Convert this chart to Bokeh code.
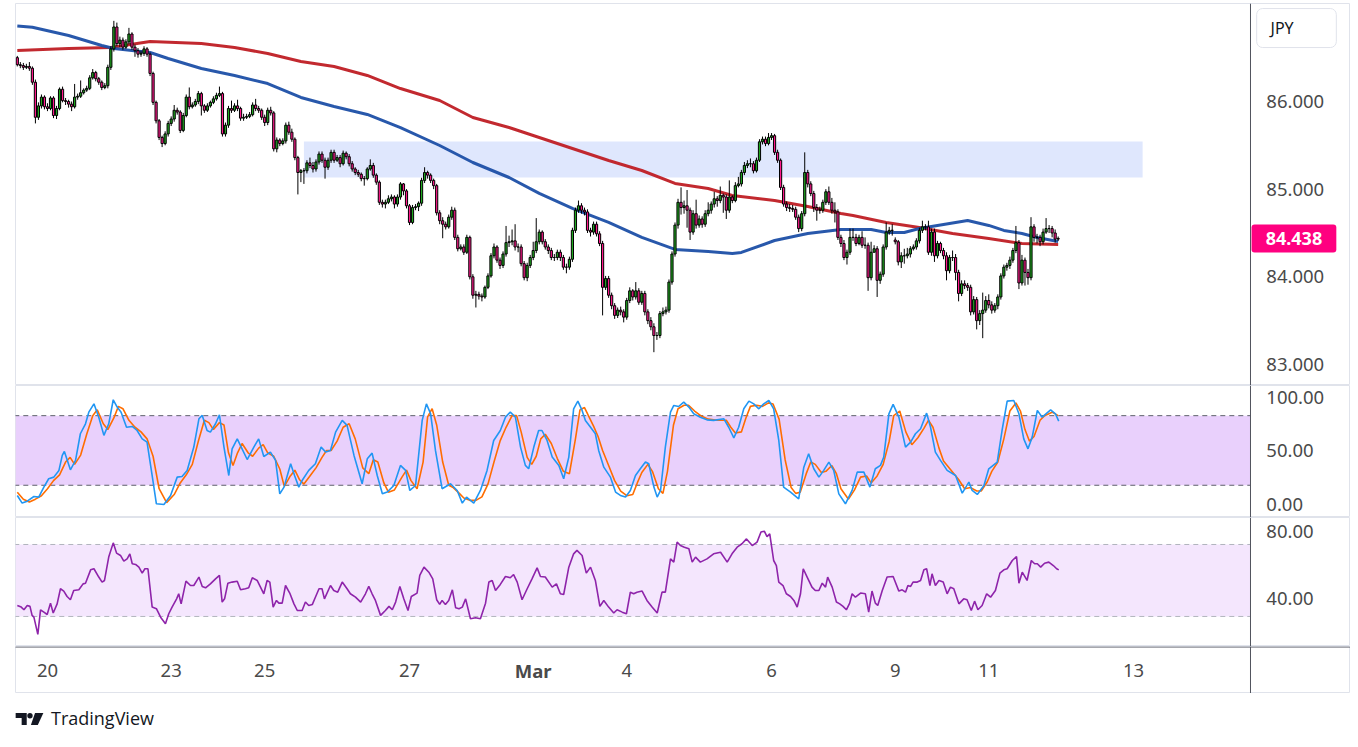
from bokeh.plotting import figure
from bokeh.models import (Range1d, Span, BoxAnnotation, Div, ColumnDataSource)
from bokeh.core.properties import value
from bokeh.layouts import column
from bokeh.embed import file_html
from bokeh.resources import INLINE

# ---------------- data (hourly bars, index 0 = Feb 19 14:00) ----------------
opens = [
86.50, 86.42, 86.41, 86.39, 86.40, 86.38, 86.22, 85.82, 85.95, 86.05,
85.94, 85.92, 86.04, 85.84, 85.92, 86.14, 86.01, 86.00, 85.97, 85.94,
86.05, 86.06, 86.10, 86.13, 86.15, 86.27, 86.33, 86.26, 86.22, 86.16,
86.18, 86.39, 86.60, 86.85, 86.66, 86.70, 86.62, 86.68, 86.77, 86.62,
86.58, 86.54, 86.55, 86.60, 86.54, 86.32, 85.99, 85.78, 85.59, 85.52,
85.63, 85.75, 85.80, 85.90, 85.88, 85.67, 85.84, 86.05, 85.94, 85.96,
86.00, 86.09, 85.95, 85.90, 85.95, 85.99, 86.03, 86.07, 86.09, 85.63,
85.73, 85.92, 85.90, 85.95, 85.92, 85.81, 85.82, 85.83, 85.85, 85.96,
85.92, 85.90, 85.82, 85.76, 85.90, 85.87, 85.46, 85.56, 85.52, 85.55,
85.73, 85.65, 85.57, 85.36, 85.19, 85.21, 85.21, 85.30, 85.27, 85.23,
85.31, 85.40, 85.33, 85.25, 85.33, 85.42, 85.33, 85.36, 85.29, 85.41,
85.37, 85.29, 85.23, 85.19, 85.17, 85.12, 85.12, 85.23, 85.27, 85.16,
85.08, 84.85, 84.83, 84.85, 84.89, 84.91, 84.83, 84.91, 85.06, 84.98,
84.81, 84.62, 84.79, 84.80, 84.84, 85.10, 85.19, 85.16, 85.10, 85.04,
84.73, 84.64, 84.60, 84.57, 84.68, 84.76, 84.45, 84.32, 84.34, 84.28,
84.45, 84.00, 83.79, 83.80, 83.78, 83.77, 83.88, 84.01, 84.24, 84.34,
84.19, 84.13, 84.26, 84.39, 84.40, 84.41, 84.34, 84.34, 84.15, 83.99,
84.13, 84.22, 84.30, 84.40, 84.51, 84.40, 84.34, 84.30, 84.22, 84.22,
84.28, 84.22, 84.11, 84.11, 84.20, 84.53, 84.76, 84.81, 84.76, 84.74,
84.53, 84.51, 84.60, 84.49, 84.38, 83.88, 83.98, 83.79, 83.67, 83.56,
83.62, 83.60, 83.54, 83.73, 83.84, 83.77, 83.84, 83.71, 83.81, 83.60,
83.50, 83.43, 83.33, 83.33, 83.58, 83.60, 83.62, 83.94, 84.26, 84.59,
84.85, 84.79, 84.81, 84.76, 84.51, 84.72, 84.59, 84.66, 84.60, 84.72,
84.76, 84.83, 84.89, 84.87, 84.93, 84.91, 84.76, 84.91, 84.87, 85.04,
85.06, 85.19, 85.27, 85.29, 85.29, 85.21, 85.33, 85.54, 85.57, 85.52,
85.59, 85.61, 85.42, 85.33, 85.02, 84.83, 84.79, 84.78, 84.77, 84.68,
84.55, 84.72, 85.19, 85.06, 84.95, 84.79, 84.76, 84.76, 84.85, 84.97,
84.85, 84.76, 84.74, 84.45, 84.38, 84.22, 84.28, 84.45, 84.45, 84.38,
84.45, 84.36, 84.36, 83.99, 84.28, 84.32, 83.96, 84.03, 84.34, 84.51,
84.53, 84.42, 84.40, 84.17, 84.24, 84.24, 84.26, 84.32, 84.34, 84.41,
84.53, 84.57, 84.57, 84.28, 84.51, 84.24, 84.38, 84.30, 84.24, 84.07,
84.22, 84.22, 84.05, 83.81, 83.92, 83.90, 83.88, 83.60, 83.74, 83.50,
83.58, 83.62, 83.73, 83.68, 83.62, 83.67, 83.77, 84.01, 84.11, 84.13,
84.19, 84.30, 84.39, 83.93, 84.19, 84.05, 83.99, 84.57, 84.45, 84.45,
84.40, 84.51, 84.55, 84.55, 84.50, 84.43]

highs = [
86.52, 86.45, 86.44, 86.43, 86.45, 86.40, 86.25, 85.99, 86.08, 86.07,
85.98, 86.06, 86.06, 85.95, 86.16, 86.17, 86.04, 86.02, 86.00, 86.20,
86.09, 86.24, 86.15, 86.18, 86.30, 86.37, 86.35, 86.28, 86.24, 86.21,
86.42, 86.63, 86.92, 86.90, 86.74, 86.73, 86.71, 86.84, 86.79, 86.65,
86.61, 86.58, 86.63, 86.62, 86.56, 86.34, 86.01, 85.80, 85.61, 85.66,
85.78, 85.83, 85.96, 85.93, 85.90, 85.87, 86.08, 86.16, 85.99, 86.03,
86.12, 86.11, 85.97, 85.98, 86.01, 86.06, 86.10, 86.17, 86.11, 85.76,
85.95, 86.01, 85.98, 86.02, 85.94, 85.86, 85.86, 85.88, 85.99, 86.03,
85.95, 85.92, 85.85, 85.93, 85.94, 85.89, 85.59, 85.58, 85.58, 85.76,
85.77, 85.69, 85.59, 85.38, 85.23, 85.24, 85.33, 85.36, 85.31, 85.34,
85.43, 85.43, 85.36, 85.36, 85.45, 85.45, 85.39, 85.39, 85.44, 85.43,
85.40, 85.32, 85.25, 85.22, 85.19, 85.15, 85.25, 85.34, 85.30, 85.18,
85.10, 84.88, 84.88, 84.93, 84.94, 84.93, 84.94, 85.08, 85.07, 85.00,
84.83, 84.82, 84.83, 84.86, 85.13, 85.25, 85.21, 85.18, 85.12, 85.06,
84.76, 84.68, 84.63, 84.71, 84.80, 84.79, 84.48, 84.37, 84.37, 84.48,
84.47, 84.03, 83.84, 83.83, 83.81, 83.90, 84.04, 84.27, 84.38, 84.36,
84.22, 84.29, 84.58, 84.47, 84.54, 84.60, 84.38, 84.37, 84.18, 84.16,
84.25, 84.40, 84.67, 84.54, 84.53, 84.43, 84.37, 84.33, 84.26, 84.31,
84.31, 84.25, 84.15, 84.23, 84.56, 84.79, 84.87, 84.84, 84.79, 84.77,
84.56, 84.63, 84.63, 84.52, 84.41, 84.01, 84.01, 83.82, 83.70, 83.65,
83.66, 83.63, 83.76, 83.88, 83.86, 83.94, 83.87, 83.84, 83.84, 83.63,
83.54, 83.47, 83.37, 83.61, 83.65, 83.66, 83.97, 84.29, 84.62, 84.89,
85.02, 84.87, 84.99, 84.79, 84.76, 84.88, 84.70, 84.69, 84.76, 84.85,
84.86, 84.97, 84.92, 85.03, 84.95, 84.94, 85.10, 84.93, 85.08, 85.14,
85.22, 85.31, 85.33, 85.35, 85.32, 85.36, 85.57, 85.60, 85.60, 85.64,
85.64, 85.63, 85.45, 85.35, 85.05, 84.86, 84.83, 84.82, 84.80, 84.71,
84.75, 85.42, 85.22, 85.09, 84.98, 84.83, 84.80, 84.88, 85.00, 85.03,
84.90, 84.85, 84.77, 84.48, 84.42, 84.31, 84.55, 84.55, 84.49, 84.48,
84.52, 84.45, 84.39, 84.40, 84.36, 84.35, 84.06, 84.37, 84.62, 84.57,
84.60, 84.45, 84.42, 84.28, 84.32, 84.33, 84.35, 84.37, 84.44, 84.56,
84.64, 84.60, 84.64, 84.55, 84.55, 84.41, 84.40, 84.33, 84.28, 84.25,
84.30, 84.26, 84.08, 83.96, 83.96, 83.93, 83.91, 83.78, 83.77, 83.62,
83.82, 83.78, 83.80, 83.72, 83.70, 83.80, 84.04, 84.14, 84.16, 84.23,
84.33, 84.58, 84.42, 84.25, 84.22, 84.09, 84.68, 84.60, 84.49, 84.48,
84.55, 84.67, 84.59, 84.58, 84.54, 84.46]

lows = [
86.40, 86.38, 86.36, 86.37, 86.35, 86.19, 85.75, 85.79, 85.92, 85.91,
85.89, 85.90, 85.81, 85.80, 85.90, 85.99, 85.96, 85.93, 85.89, 85.92,
86.02, 86.04, 86.08, 86.11, 86.13, 86.25, 86.23, 86.19, 86.13, 86.14,
86.15, 86.36, 86.57, 86.63, 86.62, 86.59, 86.60, 86.65, 86.59, 86.51,
86.50, 86.51, 86.52, 86.51, 86.29, 85.96, 85.75, 85.56, 85.48, 85.50,
85.60, 85.72, 85.77, 85.85, 85.64, 85.65, 85.82, 85.91, 85.92, 85.94,
85.97, 85.84, 85.87, 85.88, 85.93, 85.97, 86.01, 86.05, 85.60, 85.60,
85.70, 85.87, 85.88, 85.89, 85.78, 85.78, 85.80, 85.81, 85.83, 85.89,
85.87, 85.79, 85.72, 85.73, 85.84, 85.43, 85.42, 85.49, 85.50, 85.52,
85.62, 85.54, 85.33, 84.94, 85.08, 85.06, 85.18, 85.24, 85.19, 85.20,
85.28, 85.30, 85.12, 85.22, 85.30, 85.30, 85.31, 85.25, 85.27, 85.34,
85.26, 85.20, 85.16, 85.14, 85.09, 85.04, 85.10, 85.21, 85.13, 85.05,
84.82, 84.79, 84.78, 84.83, 84.86, 84.78, 84.80, 84.88, 84.93, 84.78,
84.59, 84.60, 84.76, 84.75, 84.81, 85.07, 85.12, 85.07, 85.00, 84.70,
84.60, 84.44, 84.54, 84.55, 84.65, 84.42, 84.29, 84.30, 84.25, 84.26,
83.97, 83.75, 83.65, 83.74, 83.72, 83.75, 83.86, 83.99, 84.21, 84.16,
84.09, 84.10, 84.23, 84.34, 84.36, 84.30, 84.28, 84.12, 83.96, 83.95,
84.10, 84.19, 84.27, 84.37, 84.37, 84.31, 84.26, 84.19, 84.18, 84.19,
84.18, 84.08, 84.04, 84.08, 84.17, 84.50, 84.73, 84.72, 84.70, 84.50,
84.46, 84.48, 84.46, 84.35, 83.56, 83.85, 83.76, 83.63, 83.52, 83.53,
83.56, 83.48, 83.51, 83.70, 83.73, 83.74, 83.68, 83.68, 83.56, 83.46,
83.39, 83.14, 83.28, 83.30, 83.55, 83.57, 83.59, 83.91, 84.23, 84.55,
84.71, 84.72, 84.56, 84.42, 84.48, 84.55, 84.56, 84.56, 84.57, 84.69,
84.72, 84.79, 84.80, 84.84, 84.73, 84.66, 84.73, 84.84, 84.85, 85.02,
85.03, 85.16, 85.24, 85.25, 85.18, 85.19, 85.31, 85.51, 85.49, 85.50,
85.56, 85.39, 85.30, 84.99, 84.80, 84.75, 84.74, 84.74, 84.65, 84.51,
84.52, 84.69, 85.02, 84.92, 84.74, 84.64, 84.72, 84.73, 84.82, 84.82,
84.72, 84.62, 84.42, 84.34, 84.19, 84.14, 84.25, 84.41, 84.35, 84.36,
84.33, 84.32, 83.84, 83.96, 84.28, 83.77, 83.92, 84.00, 84.31, 84.48,
84.47, 84.37, 84.13, 84.10, 84.15, 84.21, 84.22, 84.30, 84.31, 84.38,
84.50, 84.53, 84.25, 84.24, 84.17, 84.21, 84.27, 84.20, 83.96, 84.04,
84.18, 83.96, 83.72, 83.78, 83.86, 83.84, 83.56, 83.57, 83.40, 83.45,
83.30, 83.59, 83.64, 83.58, 83.59, 83.63, 83.74, 83.98, 84.07, 84.09,
84.16, 84.27, 83.86, 83.90, 83.90, 83.91, 83.96, 84.40, 84.38, 84.35,
84.37, 84.49, 84.50, 84.45, 84.39, 84.41]

closes = [
86.42, 86.41, 86.39, 86.40, 86.38, 86.22, 85.82, 85.95, 86.05, 85.94,
85.92, 86.04, 85.84, 85.92, 86.14, 86.01, 86.00, 85.97, 85.94, 86.05,
86.06, 86.10, 86.13, 86.15, 86.27, 86.33, 86.26, 86.22, 86.16, 86.18,
86.39, 86.60, 86.85, 86.66, 86.70, 86.62, 86.68, 86.77, 86.62, 86.58,
86.54, 86.55, 86.60, 86.54, 86.32, 85.99, 85.78, 85.59, 85.52, 85.63,
85.75, 85.80, 85.90, 85.88, 85.67, 85.84, 86.05, 85.94, 85.96, 86.00,
86.09, 85.95, 85.90, 85.95, 85.99, 86.03, 86.07, 86.09, 85.63, 85.73,
85.92, 85.90, 85.95, 85.92, 85.81, 85.82, 85.83, 85.85, 85.96, 85.92,
85.90, 85.82, 85.76, 85.90, 85.87, 85.46, 85.56, 85.52, 85.55, 85.73,
85.65, 85.57, 85.36, 85.19, 85.21, 85.21, 85.30, 85.27, 85.23, 85.31,
85.40, 85.33, 85.25, 85.33, 85.42, 85.33, 85.36, 85.29, 85.41, 85.37,
85.29, 85.23, 85.19, 85.17, 85.12, 85.12, 85.23, 85.27, 85.16, 85.08,
84.85, 84.83, 84.85, 84.89, 84.91, 84.83, 84.91, 85.06, 84.98, 84.81,
84.62, 84.79, 84.80, 84.84, 85.10, 85.19, 85.16, 85.10, 85.04, 84.73,
84.64, 84.60, 84.57, 84.68, 84.76, 84.45, 84.32, 84.34, 84.28, 84.45,
84.00, 83.79, 83.80, 83.78, 83.77, 83.88, 84.01, 84.24, 84.34, 84.19,
84.13, 84.26, 84.39, 84.40, 84.41, 84.34, 84.34, 84.15, 83.99, 84.13,
84.22, 84.30, 84.40, 84.51, 84.40, 84.34, 84.30, 84.22, 84.22, 84.28,
84.22, 84.11, 84.11, 84.20, 84.53, 84.76, 84.81, 84.76, 84.74, 84.53,
84.51, 84.60, 84.49, 84.38, 83.88, 83.98, 83.79, 83.67, 83.56, 83.62,
83.60, 83.54, 83.73, 83.84, 83.77, 83.84, 83.71, 83.81, 83.60, 83.50,
83.43, 83.33, 83.33, 83.58, 83.60, 83.62, 83.94, 84.26, 84.59, 84.85,
84.79, 84.81, 84.76, 84.51, 84.72, 84.59, 84.66, 84.60, 84.72, 84.76,
84.83, 84.89, 84.87, 84.93, 84.91, 84.76, 84.91, 84.87, 85.04, 85.06,
85.19, 85.27, 85.29, 85.29, 85.21, 85.33, 85.54, 85.57, 85.52, 85.59,
85.61, 85.42, 85.33, 85.02, 84.83, 84.79, 84.78, 84.77, 84.68, 84.55,
84.72, 85.19, 85.06, 84.95, 84.79, 84.76, 84.76, 84.85, 84.97, 84.85,
84.76, 84.74, 84.45, 84.38, 84.22, 84.28, 84.45, 84.45, 84.38, 84.45,
84.36, 84.36, 83.99, 84.28, 84.32, 83.96, 84.03, 84.34, 84.51, 84.53,
84.53, 84.40, 84.17, 84.24, 84.24, 84.26, 84.32, 84.34, 84.41, 84.53,
84.57, 84.57, 84.28, 84.51, 84.24, 84.38, 84.30, 84.24, 84.07, 84.22,
84.22, 84.05, 83.81, 83.92, 83.90, 83.88, 83.60, 83.74, 83.50, 83.58,
83.62, 83.73, 83.68, 83.62, 83.67, 83.77, 84.01, 84.11, 84.13, 84.19,
84.30, 84.39, 83.93, 84.19, 84.05, 83.99, 84.57, 84.45, 84.45, 84.40,
84.51, 84.55, 84.55, 84.50, 84.43, 84.438]

# moving averages
ma_fast_idx = [0, 5, 17, 28, 32, 44, 50, 61, 72, 83, 94, 105, 116, 127, 140, 151, 163, 173,
               184, 196, 207, 218, 229, 237, 240, 251, 262, 273, 283, 288, 294, 299, 305,
               315, 322, 327, 333, 338, 345]
ma_fast_val = [86.861, 86.847, 86.753, 86.639, 86.605, 86.559, 86.490, 86.376, 86.297,
               86.205, 86.046, 85.943, 85.852, 85.703, 85.498, 85.304, 85.133, 84.951,
               84.780, 84.620, 84.449, 84.312, 84.289, 84.266, 84.278, 84.414, 84.494,
               84.540, 84.540, 84.506, 84.506, 84.551, 84.586, 84.643, 84.586, 84.529,
               84.494, 84.449, 84.403]
ma_slow_idx = [0, 17, 31, 44, 61, 72, 83, 94, 105, 116, 127, 140, 151, 163, 173, 184, 196,
               207, 218, 229, 237, 251, 262, 273, 277, 288, 299, 310, 322, 333, 345]
ma_slow_val = [86.582, 86.605, 86.616, 86.684, 86.662, 86.616, 86.548, 86.456, 86.399,
               86.297, 86.148, 86.011, 85.817, 85.703, 85.589, 85.464, 85.327, 85.213,
               85.065, 85.008, 84.928, 84.871, 84.802, 84.722, 84.700, 84.620, 84.563,
               84.494, 84.437, 84.380, 84.369]

# resistance zone
zone_start, zone_end = 95, 373
zone_low, zone_high = 85.133, 85.544
last_price = 84.438

# stochastic %K / %D
stoch_k_idx = [0, 1.6, 3.3, 5.5, 7.1, 8.8, 10.4, 12.1, 13.8, 14.9, 15.6, 17.6, 19.3, 20.9, 22.6,
               23.7, 25.4, 27, 28.7, 30.3, 31.8, 33.1, 34.4, 36.2, 38.1, 39.7, 41.4, 43, 44.7,
               46.1, 48.6, 50.8, 53, 54.6, 56.3, 58.5, 60.2, 61.3, 62.9, 64, 65.7, 67, 68.5,
               70.1, 71.2, 72.9, 74.5, 76.2, 78.4, 80, 81.7, 83.9, 85.6, 87, 88.4, 90.6, 91.9,
               93.3, 94.4, 96.6, 98.8, 100.7, 102.2, 103.8, 105.5, 107.7, 109.3, 111.6, 114.3,
               116, 117.6, 119.3, 121, 122.6, 124.8, 127, 128.7, 130.1, 132, 134.2, 135.6, 137,
               138.6, 140.8, 143.6, 145.8, 147.5, 148.9, 151.3, 153.5, 155.7, 157.9, 160.1,
               161.8, 163.4, 165.1, 166.8, 168.4, 169.5, 171.2, 172.8, 173.9, 175.6, 177.3,
               179.5, 181.1, 182.8, 184.4, 185.8, 187.2, 188.3, 190, 191.6, 192.7, 194.4,
               196.6, 198.3, 199.9, 201.6, 203.2, 204.9, 206.5, 208.2, 209.3, 211, 212.1,
               213.2, 214.8, 216.5, 217.6, 219.2, 220.9, 222.6, 224.2, 226.4, 228.6, 230.8,
               234.2, 235.8, 237.5, 239.1, 240.8, 242.5, 244.1, 245.8, 247.4, 249.1, 250.7,
               252.4, 254, 256.3, 259, 260.7, 262.3, 264, 265.7, 267.3, 269, 270.6, 272.3,
               274.5, 276.7, 278.4, 280.6, 282.6, 284.4, 286.1, 287.2, 288.9, 290.3, 292.2,
               294.4, 296.1, 297.7, 299.4, 301.4, 302.7, 304.3, 306, 308.2, 311, 313.2, 315.4,
               316.5, 318.2, 320.4, 322, 324.8, 326.4, 328.1, 330.3, 332, 333.6, 335, 336.4,
               338.1, 339.7, 342.5, 344.1, 345.2]
stoch_k_val = [11.2, 4.6, 6.3, 10.3, 9.8, 18.4, 25.6, 27, 32.8, 45.7, 49.1, 33.3, 41.4, 64.4, 73,
               83, 90.2, 78.7, 63, 73, 93.7, 87.4, 83, 70, 70.7, 67.2, 60, 57.2, 28.4,
               4, 3.4, 11.2, 27, 27.6, 32.8, 52.9, 77.3, 80.2, 67.2, 65.8, 73, 80.7, 52.9,
               28.4, 51.4, 60, 51.4, 42.2, 52.9, 60, 44.8, 48.6, 41.4, 12.6, 18.4, 38.5, 28.4,
               18.4, 24.1, 32.8, 38.5, 52.9, 48.6, 50, 65.8, 75.9, 71.6, 45.7, 21.3,
               42.8, 47.7, 28.4, 12.6, 14.1, 19.8, 37.1, 32.8, 15.5, 19.8, 75.9, 90.2, 81.6,
               50, 17, 21.3, 15.5, 4.6, 9.8, 4.6, 15.5, 32.8, 58.6, 67.2,
               78.7, 83, 78.7, 52.9, 37.1, 34.2, 52.9, 67.2, 67.2, 58.6, 44.3,
               37.1, 25.6, 44.3, 85.9, 92.5, 84.5, 75.9, 70, 64.4, 50, 35.6,
               27, 14.1, 11.2, 9.8, 15.5, 28.4, 34.2, 40, 38.5, 18.4, 9.8,
               15.5, 52.9, 83, 88.8, 87.9, 91.7, 87.4, 81.6, 78.7, 76.4, 75.9,
               77.3, 70, 60.9, 70, 85.9, 92.5, 90.2, 85.9, 90.2, 93.1, 85.9,
               58.6, 18.4, 14.1, 8.3, 35.6, 47.1, 34.2, 27, 32.8, 40, 32.8, 12.6,
               4, 15.5, 31.3, 31.3, 18.4, 34.2, 37.1, 44.3, 81.6, 89.7, 78.7,
               52.9, 57.2, 64.4, 68.7, 82.2, 70, 48.6, 41.4, 32.8, 28.4, 13.2, 22.7,
               15.5, 12.1, 19.8, 34.2, 40, 67.2, 92.5, 93.1, 81.6, 60, 51.4, 61.5,
               84.5, 78.7, 85, 81.6, 75.3]
stoch_d_idx = [0, 2, 4, 6, 8, 10, 12, 14, 16, 17.5, 19, 21, 23, 25, 26.5, 28.5, 30, 32, 33.5, 35,
               37, 39, 41, 43, 45, 47, 49.5, 52, 54, 56, 58, 60, 62, 63.5, 65, 67, 68.5, 70,
               71.5, 73, 74.5, 76.5, 78, 80, 81.5, 83, 85, 87, 88.5, 90.5, 92, 93.5, 95, 97, 99,
               101, 102.5, 104, 106, 108, 110, 112, 114.5, 116.5, 118, 119.5, 121.5, 123, 125,
               127.5, 129, 130.5, 132.5, 134.5, 136, 137.5, 139, 141, 143, 144.5, 146.5, 148,
               150, 152, 154, 156, 158, 160, 162, 164, 165.5, 167, 169, 170.5, 172, 173.5, 175,
               177, 179, 181, 183, 185, 186.5, 188, 189.5, 191, 192.5, 194, 196, 198, 200, 202,
               204, 205.5, 207, 209, 210.5, 212.5, 214, 215.5, 217.5, 219, 221, 222.5, 224.5,
               226.5, 229, 232, 235, 236.5, 238, 240, 241.5, 243, 245, 247, 249, 250.5, 252.5,
               254.5, 256.5, 258, 259.5, 261.5, 263, 264.5, 266.5, 268, 270, 271.5, 273, 275.5,
               277.5, 279.5, 281.5, 283, 285, 287, 289, 290.5, 292.5, 294.5, 296.5, 298.5,
               300.5, 302, 303.5, 305.5, 307, 309.5, 312, 314, 316, 318, 319.5, 321.5, 323, 325,
               327, 329, 331, 332.5, 334, 335.5, 337, 339, 340.5, 343, 345]
stoch_d_val = [14, 8, 5.5, 8, 11, 17, 24, 29, 40, 44, 38, 46, 64, 80, 85, 73, 68, 78, 88, 86,
               76, 70, 66, 60, 45, 17, 5, 12, 22, 29, 38, 58, 76, 74, 68, 74, 72, 48,
               37, 48, 56, 48, 45, 52, 55, 48, 45, 34, 19, 28, 33, 25, 21, 28, 35,
               44, 50, 50, 58, 70, 73, 60, 35, 30, 42, 40, 22, 14, 16,
               27, 33, 24, 17, 40, 79, 86, 72, 40, 20, 18, 13, 9,
               7, 7, 10, 21, 40, 58, 70, 80, 80, 66, 44, 38, 45, 60, 64,
               56, 43, 32, 30, 60, 85, 87, 79, 71, 62, 50, 37, 24, 15, 11,
               12, 22, 31, 38, 32, 17, 13, 32, 72, 86, 89, 89, 84,
               80, 77, 76, 76, 70, 65, 66, 78, 88, 89, 88, 91, 90, 77,
               42, 18, 13, 14, 30, 40, 38, 31, 32, 37, 30, 17, 8,
               16, 27, 28, 22, 28, 38, 58, 80, 84, 66, 55, 61,
               69, 76, 70, 52, 41, 33, 25, 17, 18, 15, 15, 23, 32, 40,
               60, 84, 91, 84, 68, 58, 62, 76, 80, 83, 80]

# RSI
rsi_idx = [0, 1.3, 2.2, 3.3, 4.2, 4.9, 5.5, 6.8, 7.7, 8.8, 9.9, 11, 11.9, 13.2, 14.3, 15.4, 16.5,
           17.6, 18.7, 20.4, 21.8, 22.6, 24.3, 25.4, 27, 28.1, 28.9, 30.3, 31.8, 32.9, 34.2,
           35.3, 36.4, 37.3, 38.1, 39.2, 40.3, 41.4, 42.3, 43.3, 44.7, 46.1, 47.5, 49.1, 50.2,
           51.3, 52.8, 53.5, 54.3, 55.9, 57.4, 58.5, 60.2, 61.3, 62.4, 64, 65.7, 67, 67.9, 68.7,
           69.8, 71.2, 72.9, 74, 75.6, 76.7, 77.9, 79.5, 80.6, 81.7, 82.8, 83.7, 84.8, 85.9,
           86.7, 87.8, 88.9, 90.3, 91.7, 92.8, 94.4, 95.5, 96.6, 97.8, 98.8, 100, 101, 101.8,
           103.8, 104.9, 106.2, 107.7, 109.3, 110.4, 112.1, 113.8, 115.4, 116.5, 117.6, 118.7,
           120.4, 122, 123.2, 124.3, 125.4, 126.8, 128.1, 129.5, 130.6, 132.5, 133.4, 134.8,
           136.4, 137.7, 139, 140, 140.8, 141.9, 143, 144.2, 145.3, 146.4, 147.5, 148.6, 150.2,
           151.9, 153.5, 155.2, 156.3, 157.4, 158.5, 160.1, 161.8, 163.4, 164.5, 165.7, 167.3,
           169, 170.6, 172.3, 173.4, 175, 177.3, 178.7, 180, 181.1, 182.8, 184.4, 185.5, 187.2,
           188.6, 190, 191.6, 193.1, 194.4, 196, 197.7, 198.8, 200.5, 201.9, 203.2, 204.3,
           205.4, 207.1, 208.7, 210.4, 212.1, 213.7, 214.8, 216.5, 217.6, 218.7, 219.8, 221.1,
           222.6, 223.7, 224.8, 226.4, 228.6, 230.8, 233.1, 235.3, 236.9, 238.6, 240.2, 241.7,
           243.6, 245.2, 246.5, 247.6, 248.5, 249.4, 250.7, 251.6, 252.4, 253.8, 254.9, 256.3,
           257.4, 258.5, 259.6, 260.5, 261.8, 263.4, 264.5, 265.7, 266.8, 267.9, 268.6, 270.1,
           271.5, 272.6, 273.7, 274.8, 275.9, 276.7, 277.8, 279.5, 281.1, 282.2, 283.3, 284.4,
           285.2, 286.7, 288.3, 290.3, 292.2, 293.3, 294.4, 295.2, 296.1, 296.9, 298.3, 299.4,
           300.5, 301.4, 302.5, 303.2, 304.3, 305.5, 306.9, 308.2, 309.3, 310.4, 312.1, 313.7,
           314.8, 316.2, 317.3, 318.4, 319.8, 321.3, 322.6, 324.2, 325.7, 327, 328.1, 329.8,
           331.2, 332, 333.1, 334.7, 336.1, 337.2, 338.1, 339.2, 340.5, 341.9, 343.4, 344.5,
           345.2]
rsi_val = [36.1, 35.2, 33.7, 36.1, 35.6, 30.6, 29.6, 20, 33.7, 32.4, 31.1, 37.4, 31.9, 37, 45.4,
           44.1, 41.1, 39.3, 44.4, 44.8, 48.1, 48.5, 55.9, 56.5, 51.9, 49.1, 50, 63, 70.9, 65.2,
           63.9, 60.7, 62, 64.8, 59.3, 58.9, 57.4, 54.1, 56.5, 56.5, 35.2, 34.3, 29.6, 25.9, 31.5,
           35.2, 39.8, 42.6, 37, 49.6, 47.2, 47.2, 51.9, 46.7, 45.9, 48.1, 50.9, 52.8, 38, 39.8,
           48.5, 49.1, 49.6, 44.8, 45.4, 45.9, 51.5, 50, 46.3, 42.6, 50, 49.1, 35.2, 38.9,
           37.4, 37.4, 47.2, 43, 37, 33.3, 33.3, 38, 36.1, 36.7, 40.7, 45.4, 45.4, 39.8,
           47.2, 44.4, 43.5, 49.1, 45.4, 42.6, 40.7, 38, 42.6, 46.7, 42.6, 38.9,
           30.6, 33.3, 35.6, 33.7, 38, 46.7, 39.8, 33.3, 41.1, 43, 52.8, 57.4,
           54.6, 50.9, 39.3, 36.7, 38.9, 36.7, 38.9, 44.8, 34.8, 34.3, 35.2, 39.8, 28.7,
           29.3, 28.7, 37.4, 49.1, 50, 44.4, 47.8, 52.2, 51.5, 53.3, 49.1, 39.3,
           45.4, 50.9, 57, 52.2, 51.9, 46.3, 48.1, 42.6, 42.2, 57.4, 64.8, 66.7, 63.9,
           54.1, 57.4, 50, 35.6, 38.9, 35.2, 31.9, 33.7, 32.4, 31.5, 43.5, 42.6,
           43.5, 44.1, 38.9, 35.2, 31.9, 43.5, 43.5, 62, 60.2, 71.3, 69.4, 68.5,
           67.6, 60.2, 63, 60.2, 62, 64.8, 65.7, 60.2, 64.8, 68.5, 70.4, 73.1,
           69.4, 71.3, 76.9, 77.4, 74.4, 75.9, 61.1, 58.3, 49.1, 47.2, 42.6, 41.1,
           38.9, 35.2, 42.6, 56.5, 51.9, 46.3, 44.4, 44.4, 48.5, 46.3, 51.9, 46.3,
           38, 37, 35.6, 33.7, 37.4, 42.6, 40.7, 43, 42.6, 32.4, 44.1, 37.4,
           36.1, 44.4, 51.9, 52.2, 44.1, 44.8, 43.5, 47.2, 46.7, 49.1, 49.1, 50,
           55.9, 56.5, 47.2, 53.7, 47.2, 50, 49.1, 42.6, 46.3, 45.4, 37, 39.8,
           39.3, 33.3, 38.5, 33.7, 36.1, 42.6, 40.7, 44.4, 54.1, 55.9, 56.5, 61.1,
           63.3, 48.5, 54.6, 50, 61.1, 59.3, 59.3, 57.4, 59.6, 60.2, 58.3, 56.5,
           55.9]

# axes
price_ticks = [83, 84, 85, 86]
stoch_ticks = [0, 50, 100]
rsi_ticks = [40, 80]
tick_idx = [10, 51, 82, 130, 171, 202, 250, 291, 322, 370]
tick_labels = ["20", "23", "25", "27", "Mar", "4", "6", "9", "11", "13"]
month_starts = ["Mar"]
currency = "JPY"

# ---------------- styling / geometry ----------------
UP, DOWN = "#1fa71f", "#ff1a8c"
FONT = "Noto Sans"
TXT = "#4a4a4a"
AXIS = "#50535e"
FRAME_W = 1335
SCALE_X = 408.75     # index where the price scale starts
LABEL_X = 414.0      # left edge of scale labels
FS = "18.5px"

xr = Range1d(-0.6, 441.9)


def make_fig(h, yr, top=0):
    p = figure(frame_width=FRAME_W, frame_height=h, x_range=xr, y_range=yr,
               y_axis_location=None, x_axis_location=None,
               toolbar_location=None, output_backend="svg",
               min_border_left=15, min_border_right=0, min_border_top=top,
               min_border_bottom=0, background_fill_color="white",
               border_fill_color="white", outline_line_color="#e0e3eb")
    p.xgrid.visible = False
    p.ygrid.visible = False
    p.add_layout(Span(location=SCALE_X, dimension="height", line_color=AXIS,
                      line_width=1, level="overlay"))
    return p


def scale_labels(p, ticks, fmt, offsets=None):
    p.text(x=[LABEL_X] * len(ticks), y=ticks, text=[fmt.format(t) for t in ticks],
           y_offset=offsets if offsets else 0,
           text_font=value(FONT), text_font_size=FS, text_color=TXT,
           text_align="left", text_baseline="middle")


# ---- price panel ----
p1 = make_fig(382, Range1d(82.760, 87.118), top=3)
scale_labels(p1, price_ticks, "{:.3f}")

p1.quad(left=[zone_start], right=[zone_end], bottom=[zone_low], top=[zone_high],
        fill_color="#dfe7fd", line_color=None)

p1.line(ma_slow_idx, ma_slow_val, line_color="#bf1e24", line_width=3, line_alpha=0.95)
p1.line(ma_fast_idx, ma_fast_val, line_color="#1c4fa6", line_width=3, line_alpha=0.95)

idx = list(range(len(closes)))
src = ColumnDataSource(dict(
    x=idx, high=highs, low=lows,
    top=[max(o, c) for o, c in zip(opens, closes)],
    bot=[min(o, c) for o, c in zip(opens, closes)],
    color=[UP if c >= o else DOWN for o, c in zip(opens, closes)],
))
p1.segment(x0="x", y0="low", x1="x", y1="high", source=src, line_color="black", line_width=1)
p1.vbar(x="x", width=0.72, top="top", bottom="bot", source=src,
        fill_color="color", line_color="black", line_width=1)

# last-price tag on the scale
tag_kw = dict(x=[423.15], y=[last_price], width=28.1, height=28, height_units="screen",
              fill_color="#ff0080", line_color=None)
try:
    p1.rect(border_radius=3, **tag_kw)
except Exception:
    p1.rect(**tag_kw)
p1.text(x=[423.15], y=[last_price], text=[f"{last_price:.3f}"], text_font=value(FONT),
        text_font_size="18px", text_font_style="bold", text_color="white",
        text_align="center", text_baseline="middle")

# currency button
box_kw = dict(x=[424.0], y=[86.838], width=26.4, height=39, height_units="screen",
              fill_color="white", line_color="#e0e3eb", line_width=1)
try:
    p1.rect(border_radius=6, **box_kw)
except Exception:
    p1.rect(**box_kw)
p1.text(x=[415.4], y=[86.838], text=[currency], text_font=value(FONT),
        text_font_size="16px", text_color="#131722", text_align="left",
        text_baseline="middle")

# ---- stochastic panel ----
p2 = make_fig(132, Range1d(-7.8, 106.0))
scale_labels(p2, stoch_ticks, "{:.2f}", offsets=[-4, 0, 5])
p2.add_layout(BoxAnnotation(bottom=20, top=80, right=SCALE_X, fill_color="#e9d0fc",
                            fill_alpha=1.0, line_color=None, level="underlay"))
p2.segment(x0=[-1, -1], y0=[20, 80], x1=[SCALE_X, SCALE_X], y1=[20, 80],
           line_color="#5d606b", line_dash="5 4", line_width=1)
p2.line(stoch_d_idx, stoch_d_val, line_color="#ff6d00", line_width=1.6)
p2.line(stoch_k_idx, stoch_k_val, line_color="#2196f3", line_width=1.6)

# ---- RSI panel ----
p3 = make_fig(129, Range1d(13.3, 85.0))
scale_labels(p3, rsi_ticks, "{:.2f}", offsets=[0, 5])
p3.add_layout(BoxAnnotation(bottom=30, top=70, right=SCALE_X, fill_color="#f4e6fd",
                            fill_alpha=1.0, line_color=None, level="underlay"))
p3.segment(x0=[-1, -1], y0=[30, 70], x1=[SCALE_X, SCALE_X], y1=[30, 70],
           line_color="#b2b5be", line_dash="5 4", line_width=1)
p3.line(rsi_idx, rsi_val, line_color="#8e24aa", line_width=1.6)

# ---- time scale ----
p4 = make_fig(47, Range1d(0, 47))
p4.segment(x0=[-1], y0=[46.5], x1=[445], y1=[46.5], line_color=AXIS, line_width=1)
reg = [(t, l) for t, l in zip(tick_idx, tick_labels) if l not in month_starts]
bold = [(t, l) for t, l in zip(tick_idx, tick_labels) if l in month_starts]
p4.text(x=[t for t, _ in reg], y=[23] * len(reg), text=[l for _, l in reg],
        text_font=value(FONT), text_font_size=FS, text_color=TXT,
        text_align="center", text_baseline="middle")
p4.text(x=[t for t, _ in bold], y=[23] * len(bold), text=[l for _, l in bold],
        text_font=value(FONT), text_font_size=FS, text_color=TXT, text_font_style="bold",
        text_align="center", text_baseline="middle")

logo = Div(text=(
    '<div style="display:flex;align-items:center;gap:7px;font-family:\'Open Sans\',sans-serif;'
    'font-size:18px;color:#131722;">'
    '<svg width="29" height="12" viewBox="0 0 30 13">'
    '<path d="M0 0h12v13h-5.5v-7.5h-6.5z" fill="#131722"/>'
    '<circle cx="15.5" cy="3" r="2.9" fill="#131722"/>'
    '<path d="M21 0h9l-6 13h-7.5z" fill="#131722"/></svg>'
    '<span>TradingView</span></div>'), width=300, height=34, margin=(13, 0, 0, 15))

layout = column(p1, p2, p3, p4, logo, spacing=0)

with open("out.html", "w") as f:
    f.write(file_html(layout, INLINE, title="JPY chart"))
